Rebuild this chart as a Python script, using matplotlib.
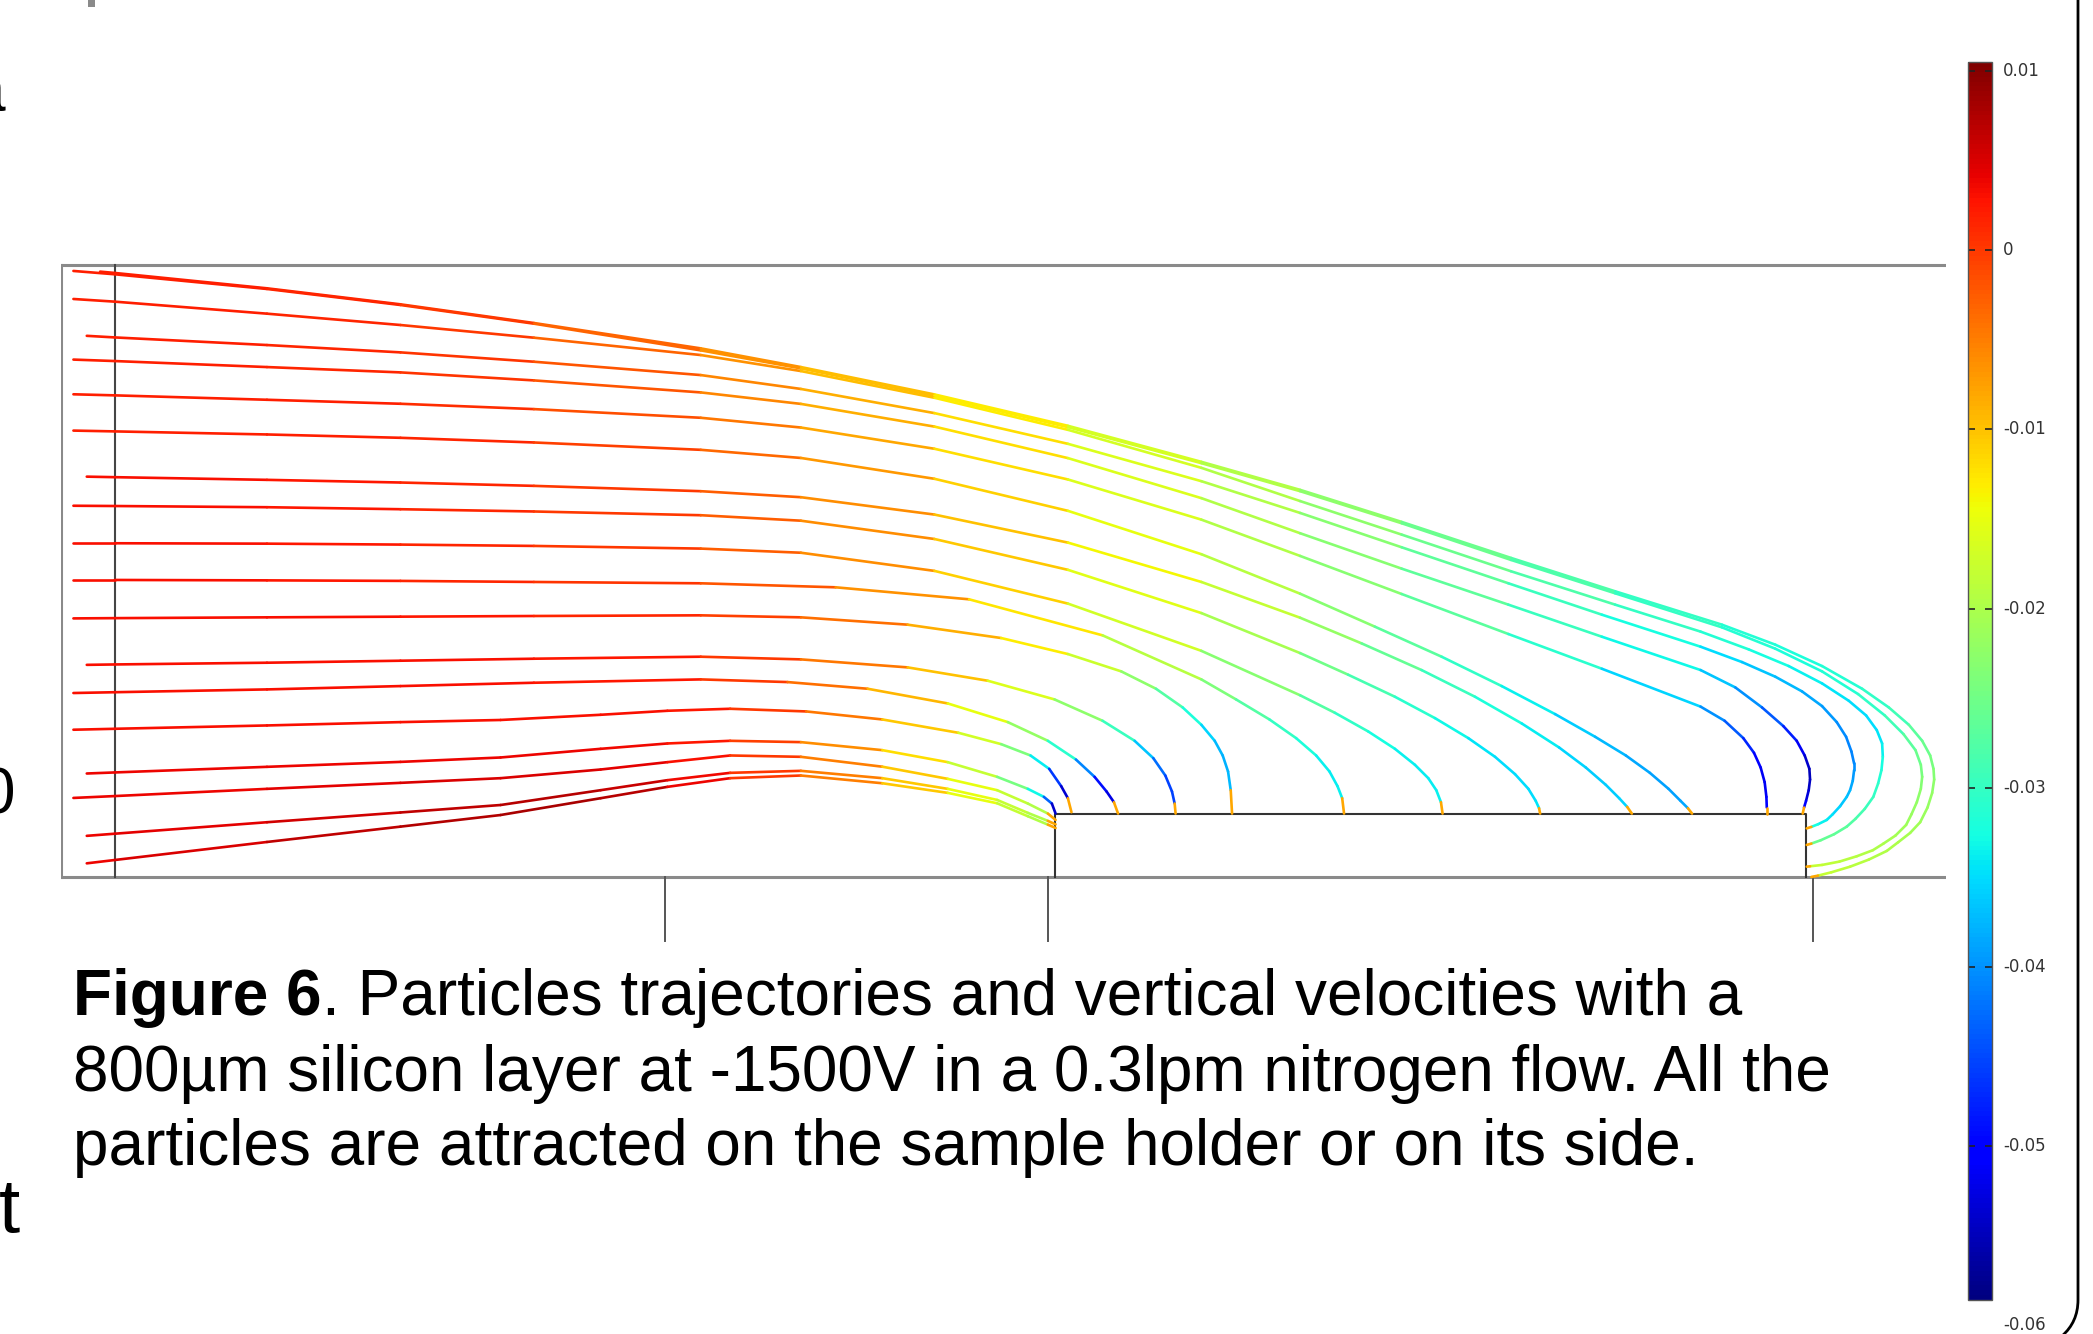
import numpy as np
import matplotlib
matplotlib.use("Agg")
import matplotlib.pyplot as plt
from matplotlib.collections import LineCollection
from matplotlib.colors import Normalize
from matplotlib.cm import ScalarMappable
from matplotlib.patches import PathPatch, Rectangle
from matplotlib.path import Path
from matplotlib.transforms import blended_transform_factory

# flow cell outline, drawing units (y counted downward from the top of the page)
cell_left, cell_right = 46, 1458
cell_top, cell_floor = 198.5, 657
grid_x = 86
holder_left, holder_right, holder_top = 790.5, 1353, 610
foot_x = [498, 785, 1358]
foot_end = 705

# particle paths: x, y and vertical velocity along each one
path_x = [
    [75, 86, 200, 300, 400, 525, 600, 700, 800, 900, 974, 1050, 1132, 1210, 1290, 1330, 1365, 1395, 1415, 1430,
     1440, 1446, 1448.5, 1449, 1447.5, 1444, 1438.5, 1431, 1422, 1413.5, 1400, 1386, 1372, 1362, 1357],
    [55, 86, 200, 300, 400, 525, 600, 700, 800, 900, 974, 1050, 1132, 1210, 1290, 1330, 1365, 1392, 1412, 1426,
     1435, 1439, 1440, 1439, 1436, 1432, 1428, 1420, 1411, 1403, 1391, 1378, 1365, 1356, 1353.5],
    [55, 86, 200, 300, 400, 525, 600, 700, 800, 900, 974, 1050, 1132, 1210, 1274, 1310, 1340, 1365, 1385, 1398,
     1406, 1410, 1410.5, 1409.5, 1407, 1403.4, 1397, 1390, 1383.5, 1374, 1364, 1357, 1353.5],
    [65, 86, 200, 300, 400, 525, 600, 700, 800, 900, 974, 1050, 1130, 1200, 1274, 1305, 1330, 1350, 1365, 1376,
     1383, 1387, 1389, 1389, 1388, 1386, 1383.5, 1378.5, 1373, 1368.5, 1362, 1357, 1353.5],
    [55, 86, 200, 300, 400, 525, 600, 700, 800, 900, 974, 1050, 1130, 1200, 1274, 1300, 1320, 1336, 1346, 1352,
     1355.5, 1356, 1355, 1353, 1351.5, 1350.5],
    [55, 86, 200, 300, 400, 525, 600, 700, 800, 900, 974, 1050, 1130, 1200, 1274, 1292, 1306, 1314, 1319, 1322,
     1323.3, 1323.6, 1323.6],
    [55, 86, 200, 300, 400, 525, 600, 700, 800, 900, 974, 1030, 1080, 1125, 1165, 1195, 1218, 1236, 1250, 1259,
     1264.5, 1267.6],
    [65, 86, 200, 300, 400, 525, 600, 700, 800, 900, 974, 1020, 1065, 1105, 1140, 1168, 1188, 1203, 1213, 1219,
     1222.5],
    [55, 86, 200, 300, 400, 525, 600, 700, 800, 900, 974, 1010, 1045, 1075, 1100, 1120, 1135, 1145, 1150.5, 1153,
     1153.8],
    [55, 86, 200, 300, 400, 525, 600, 700, 800, 900, 974, 1000, 1025, 1045, 1060, 1070, 1076, 1079.5, 1080.7],
    [55, 86, 200, 300, 400, 525, 626, 726, 826, 900, 926, 951, 971, 986, 996, 1002, 1005.5, 1006.9],
    [55, 86, 200, 300, 400, 525, 600, 680, 750, 800, 840, 866, 886, 900, 910, 916, 920, 922, 923],
    [65, 86, 200, 300, 400, 525, 600, 680, 740, 790, 826, 850, 864, 873, 878, 880, 880.7],
    [55, 86, 200, 300, 400, 525, 590, 650, 710, 755, 785, 806, 820, 829, 834.5, 837.6],
    [55, 86, 200, 300, 375, 450, 500, 547, 604, 661, 718, 750, 772, 786, 795, 800, 802.7],
    [65, 86, 200, 300, 375, 450, 500, 547, 600, 661, 710, 747, 770, 782, 788, 790.8],
    [55, 86, 200, 300, 375, 450, 500, 547, 600, 661, 710, 747, 770, 785, 790.8],
    [65, 86, 200, 300, 375, 450, 500, 547, 600, 661, 710, 747, 770, 785, 790.8],
    [65, 86, 200, 300, 375, 450, 500, 547, 600, 661, 710, 747, 770, 785, 790.8],
]
path_y = [
    [203.5, 204.5, 216, 228, 242, 261, 275, 295.5, 319, 346, 367, 391, 418, 443, 468, 483, 499, 516, 530, 543,
     555, 566, 576, 584, 594, 605, 616, 624, 631, 637.5, 644, 649.3, 653.5, 656, 657],
    [203, 205.5, 216.5, 228.5, 242.5, 262.5, 276, 296.5, 320, 347, 368, 392, 419.5, 444.5, 470, 486, 503, 520, 536, 550,
     562, 573, 582, 591, 601, 610, 618, 626, 632, 637, 641.5, 645.5, 648, 649, 649.3],
    [224, 226, 235, 243.5, 253, 266, 278, 298, 322, 350.5, 375.4, 400.5, 428, 453, 473.2, 486.5, 499, 512, 525, 536,
     547, 557, 567, 577, 587, 597, 606, 613.5, 619.3, 625, 629.5, 632, 633],
    [251.6, 252.8, 258.5, 264, 271, 281, 291.4, 309.5, 332.5, 360.5, 384.3, 410, 437, 460.5, 484.5, 496, 507, 518, 529, 541,
     552, 563, 572, 577, 585, 592, 597, 604, 610, 614.3, 617.5, 619.5, 620.6],
    [269.4, 270.5, 275, 279, 285, 294, 302.6, 319.6, 343.2, 373.2, 399.5, 426, 453, 477, 502, 515, 530, 544, 555, 566,
     576, 584, 592, 600, 605, 609.5],
    [295.4, 296.2, 299.5, 302.5, 306.5, 313, 320.3, 336.2, 359.2, 389.3, 416.5, 445, 475, 501, 529.4, 540, 553, 564, 575, 586,
     597, 605, 609.5],
    [322.6, 323.2, 325.5, 328, 331.5, 337, 343.1, 358.7, 382.7, 415.2, 444.8, 469.5, 492, 514, 535, 552, 566, 579, 591, 600,
     605.5, 609.5],
    [357.1, 357.5, 359.5, 361.5, 364, 368, 372.5, 385.5, 406.5, 436, 462.8, 482, 502, 522, 542, 560, 575, 588, 598, 604.5,
     609.5],
    [378.9, 379.1, 380, 381.5, 383.2, 386, 390.1, 403.8, 426.9, 459.3, 489.3, 505.5, 522, 538, 553, 567, 580, 591, 600, 605.5,
     609.5],
    [407, 407, 407.3, 408, 409, 411, 414.1, 427.7, 452.2, 487.6, 520.9, 534, 548, 561, 573, 583, 592, 601, 609.5],
    [434.5, 434.5, 434.8, 435.2, 436, 437, 440, 449, 476, 509, 524, 539, 553, 566, 578, 589, 598, 609.5],
    [463.3, 463.1, 462.5, 462, 461.5, 461, 462.5, 468, 478, 490, 503, 516, 530, 543, 555, 566, 578, 592, 609.5],
    [498.1, 497.8, 496.5, 495, 493.5, 492, 494, 500, 510, 524, 540, 555, 568, 581, 593, 602, 609.5],
    [519.2, 518.6, 516.5, 514, 511.5, 509, 511, 516, 527, 541, 555, 569, 582, 593, 601, 609.5],
    [546.7, 546, 543.5, 541, 539.4, 535.5, 532.5, 531, 533, 539, 549, 557.5, 566, 576, 589, 598, 608.5],
    [579.5, 578.7, 574.5, 570.8, 567.5, 561, 557, 555, 556, 562, 571, 582, 591, 597, 602, 609.5],
    [597.8, 596.4, 591, 586.5, 583, 576.5, 571, 566, 567, 574.4, 583.5, 592, 602, 609.5, 614.3],
    [626.2, 624.6, 616, 608.7, 603.1, 592, 584.5, 579, 577.5, 583, 591, 599.3, 609, 615, 617.6],
    [646.8, 644.3, 630.8, 619.3, 610.6, 598, 589.5, 583, 581, 586.8, 594, 601.8, 611.5, 617.8, 620.3],
]
path_v = [
    [0.002, 0.002, 0.002, 0.001, -0.001, -0.005, -0.008, -0.011, -0.015, -0.018, -0.021, -0.024, -0.027, -0.029, -0.031,
     -0.032, -0.032, -0.031, -0.030, -0.028, -0.026, -0.025, -0.024, -0.023, -0.022, -0.022, -0.021, -0.021, -0.020, -0.020,
     -0.019, -0.019, -0.018, -0.018, -0.008],
    [0.002, 0.002, 0.002, 0.001, -0.001, -0.005, -0.008, -0.011, -0.015, -0.018, -0.021, -0.024, -0.027, -0.029, -0.031,
     -0.032, -0.032, -0.031, -0.030, -0.028, -0.026, -0.025, -0.024, -0.023, -0.022, -0.022, -0.021, -0.021, -0.020, -0.020,
     -0.019, -0.019, -0.018, -0.018, -0.008],
    [0.002, 0.002, 0.002, 0.001, -0.001, -0.005, -0.008, -0.011, -0.015, -0.018, -0.021, -0.024, -0.027, -0.029, -0.031,
     -0.032, -0.033, -0.034, -0.035, -0.035, -0.035, -0.034, -0.033, -0.032, -0.031, -0.030, -0.029, -0.028, -0.027, -0.026,
     -0.026, -0.025, -0.008],
    [0.002, 0.002, 0.002, 0.001, 0.000, -0.004, -0.007, -0.010, -0.014, -0.018, -0.021, -0.025, -0.028, -0.031, -0.034,
     -0.036, -0.037, -0.038, -0.039, -0.040, -0.041, -0.041, -0.041, -0.040, -0.039, -0.038, -0.037, -0.036, -0.035, -0.034,
     -0.033, -0.032, -0.008],
    [0.002, 0.002, 0.002, 0.001, 0.000, -0.004, -0.007, -0.010, -0.014, -0.018, -0.021, -0.025, -0.028, -0.031, -0.035,
     -0.038, -0.042, -0.046, -0.050, -0.053, -0.055, -0.055, -0.054, -0.052, -0.050, -0.008],
    [0.002, 0.002, 0.002, 0.002, 0.000, -0.003, -0.006, -0.010, -0.014, -0.018, -0.021, -0.025, -0.029, -0.033, -0.038,
     -0.042, -0.046, -0.049, -0.051, -0.052, -0.051, -0.050, -0.008],
    [0.002, 0.002, 0.002, 0.002, 0.001, -0.002, -0.005, -0.009, -0.013, -0.017, -0.021, -0.025, -0.029, -0.032, -0.035,
     -0.037, -0.038, -0.039, -0.039, -0.039, -0.038, -0.008],
    [0.003, 0.003, 0.003, 0.002, 0.001, -0.001, -0.004, -0.008, -0.012, -0.016, -0.020, -0.024, -0.028, -0.031, -0.033,
     -0.035, -0.036, -0.036, -0.036, -0.035, -0.008],
    [0.003, 0.003, 0.003, 0.002, 0.001, -0.001, -0.004, -0.008, -0.013, -0.018, -0.023, -0.027, -0.030, -0.032, -0.034,
     -0.035, -0.035, -0.035, -0.035, -0.034, -0.008],
    [0.003, 0.003, 0.003, 0.002, 0.001, -0.001, -0.004, -0.008, -0.014, -0.020, -0.026, -0.029, -0.032, -0.033, -0.034,
     -0.034, -0.034, -0.033, -0.008],
    [0.003, 0.003, 0.003, 0.002, 0.001, 0.000, -0.004, -0.009, -0.016, -0.022, -0.026, -0.029, -0.031, -0.033, -0.034,
     -0.034, -0.033, -0.008],
    [0.003, 0.003, 0.003, 0.003, 0.002, 0.001, -0.002, -0.006, -0.011, -0.015, -0.020, -0.025, -0.030, -0.034, -0.037,
     -0.038, -0.038, -0.037, -0.008],
    [0.003, 0.003, 0.003, 0.003, 0.003, 0.002, -0.002, -0.007, -0.013, -0.019, -0.026, -0.033, -0.040, -0.045, -0.046,
     -0.045, -0.008],
    [0.003, 0.003, 0.003, 0.003, 0.003, 0.002, -0.002, -0.006, -0.012, -0.018, -0.026, -0.036, -0.046, -0.052, -0.053,
     -0.008],
    [0.003, 0.003, 0.003, 0.003, 0.003, 0.003, 0.003, 0.002, -0.002, -0.007, -0.014, -0.020, -0.028, -0.040, -0.052,
     -0.055, -0.008],
    [0.004, 0.004, 0.004, 0.004, 0.004, 0.004, 0.003, 0.002, -0.003, -0.009, -0.015, -0.021, -0.028, -0.038, -0.048,
     -0.054],
    [0.004, 0.004, 0.004, 0.005, 0.005, 0.005, 0.004, 0.002, -0.002, -0.008, -0.013, -0.017, -0.019, -0.020, -0.008],
    [0.004, 0.004, 0.005, 0.006, 0.007, 0.007, 0.005, 0.002, -0.002, -0.008, -0.013, -0.017, -0.019, -0.020, -0.008],
    [0.004, 0.004, 0.006, 0.007, 0.008, 0.008, 0.006, 0.002, -0.002, -0.008, -0.013, -0.017, -0.019, -0.020, -0.008],
]

vmin, vmax = -0.0586, 0.0105
cbar_ticks = [0.01, 0, -0.01, -0.02, -0.03, -0.04, -0.05, -0.06]
cbar_labels = ["0.01", "0", "-0.01", "-0.02", "-0.03", "-0.04", "-0.05", "-0.06"]

caption_bold = "Figure 6"
caption_lines = [". Particles trajectories and vertical velocities with a",
                 "800\u00b5m silicon layer at -1500V in a 0.3lpm nitrogen flow. All the",
                 "particles are attracted on the sample holder or on its side."]

W, H = 2093, 1334
fig = plt.figure(figsize=(W / 100, H / 100), dpi=100)


def fx(px):
    return px / W


def fy(py):
    return 1 - py / H


ax = fig.add_axes([fx(61.4), fy(947.7), fx(1946.2) - fx(61.4), fy(253.6) - fy(947.7)])
ax.set_xlim(cell_left, cell_right)
ax.set_ylim(710, 190)
ax.axis("off")

# cell walls, grid, holder
gray = "#8a8a8a"
ax.plot([cell_left, cell_right], [cell_top, cell_top], color=gray, lw=2.2, solid_capstyle="butt")
ax.plot([cell_left, cell_left], [cell_top, cell_floor], color=gray, lw=2.2)
ax.plot([cell_left, cell_right], [cell_floor, cell_floor], color=gray, lw=2.2, solid_capstyle="butt")
ax.plot([grid_x, grid_x], [cell_top, cell_floor], color="#454545", lw=1.5)
ax.plot([holder_left, holder_left, holder_right, holder_right],
        [cell_floor, holder_top, holder_top, cell_floor], color="#333333", lw=1.5)
for x in foot_x:
    ax.plot([x, x], [cell_floor, foot_end], color="#555555", lw=1.4, clip_on=False)

# trajectories coloured by vertical velocity
norm = Normalize(vmin, vmax)
for xs, ys, vs in zip(path_x, path_y, path_v):
    pts = np.column_stack([xs, ys])
    segs = np.stack([pts[:-1], pts[1:]], axis=1)
    v = np.asarray(vs)
    seg_v = (v[:-1] + v[1:]) / 2
    seg_v[-1] = v[-1]  # impact tip
    lc = LineCollection(segs, cmap="jet", norm=norm, linewidths=1.9,
                        capstyle="round", joinstyle="round")
    lc.set_array(seg_v)
    ax.add_collection(lc)

# colour bar
cax = fig.add_axes([fx(1968), fy(1300), fx(24), (1300 - 62.3) / H])
cb = fig.colorbar(ScalarMappable(norm=norm, cmap="jet"), cax=cax)
cb.set_ticks([t for t in cbar_ticks if vmin <= t <= vmax])
cax.tick_params(direction="in", length=5, width=1.2, left=True, right=True,
                labelleft=False, labelright=False, color="#222222")
cb.outline.set_edgecolor("#555555")
cb.outline.set_linewidth(1.0)
trans = blended_transform_factory(cax.transAxes, cax.transData)
for t, lab in zip(cbar_ticks, cbar_labels):
    cax.text(1.45, t, lab, transform=trans, ha="left", va="center",
             fontsize=12, color="#333333", clip_on=False)

# page frame on the right
frame = Path([(fx(2078), fy(0)), (fx(2078), fy(1300)), (fx(2078), fy(1322)), (fx(2062), fy(1336))],
             [Path.MOVETO, Path.LINETO, Path.CURVE3, Path.CURVE3])
fig.add_artist(PathPatch(frame, transform=fig.transFigure, fill=False, lw=2.0, edgecolor="black"))
fig.add_artist(Rectangle((fx(88), fy(7)), fx(7), 7 / H, transform=fig.transFigure,
                         color="#8a8a8a", lw=0))

# caption
font = "Liberation Sans"
renderer = fig.canvas.get_renderer()
t0 = fig.text(fx(73), fy(1014.5), caption_bold, fontsize=46, fontweight="bold",
              family=font, va="baseline")
bb = t0.get_window_extent(renderer)
fig.text(bb.x1 / W, fy(1014.5), caption_lines[0], fontsize=46, family=font, va="baseline")
fig.text(fx(73), fy(1090.5), caption_lines[1], fontsize=46, family=font, va="baseline")
fig.text(fx(73), fy(1165.5), caption_lines[2], fontsize=46, family=font, va="baseline")

# letters of the neighbouring column cut by the page edge
fig.text(fx(-31), fy(112), "a", fontsize=46, family=font, va="baseline")
fig.text(fx(-20), fy(813), "0", fontsize=46, family=font, va="baseline")
fig.text(fx(-1), fy(1232), "t", fontsize=55, family=font, va="baseline")

fig.savefig("out.png", dpi=100)
